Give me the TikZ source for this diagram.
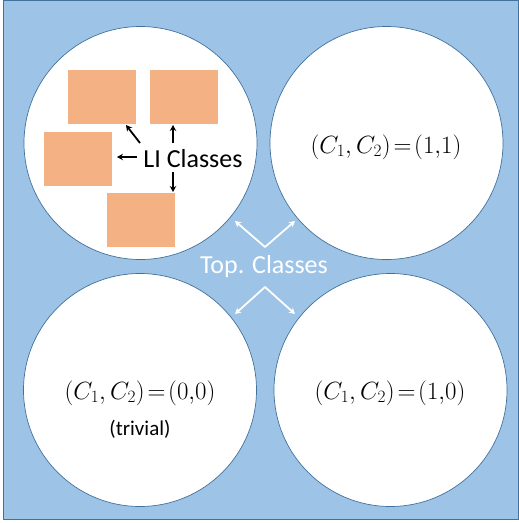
\documentclass[tikz,border=0pt]{standalone}
\usepackage{fontspec}
\setmainfont{Carlito}
\usepackage{xcolor}
\usetikzlibrary{arrows.meta}
\definecolor{bgblue}{HTML}{9DC3E6}
\definecolor{rimblue}{HTML}{41719C}
\definecolor{boxorange}{HTML}{F4B183}
\tikzset{
  disc/.style={circle,fill=white,draw=rimblue,line width=0.7pt,inner sep=0pt,minimum size=233pt},
  libox/.style={rectangle,fill=boxorange,draw=white,line width=0.4pt,inner sep=0pt,minimum width=69pt,minimum height=55pt},
  bigtext/.style={font=\fontsize{26}{30}\selectfont,inner sep=0pt},
  blackarrow/.style={->,line width=1.8pt,>={Stealth[length=6pt,width=6.5pt]}},
  whitearrow/.style={<->,white,line width=1.8pt,>={Stealth[length=6pt,width=6.5pt]}}
}

\begin{document}
\begin{tikzpicture}[x=1pt,y=-1pt,line join=round]
  \useasboundingbox (0,0) rectangle (519,523);
  \fill[white] (0,0) rectangle (519,523);
  \draw[fill=bgblue,draw=rimblue,line width=0.8pt] (3,0.5) rectangle (518,519);
  % four discs
  \node[disc] (DTL) at (140.5,143) {};
  \node[disc] (DTR) at (386.5,143) {};
  \node[disc] (DBL) at (140.0,390) {};
  \node[disc] (DBR) at (390.5,390) {};
  % LI classes in the first disc
  \node[libox] (B1) at (101.5,96.5) {};
  \node[libox] (B2) at (183.5,96.5) {};
  \node[libox] (B3) at (77.5,158.5) {};
  \node[libox] (B4) at (140.5,220.0) {};
  \node[bigtext] (LI) at (193,159) {LI Classes};
  \coordinate (A1s) at (140,143);
  \coordinate (A1e) at (126,125);
  \coordinate (A2s) at (173,143);
  \coordinate (A2e) at (173,125);
  \coordinate (A3s) at (137,157);
  \coordinate (A3e) at (117,157);
  \coordinate (A4s) at (173,172);
  \coordinate (A4e) at (173,192);
  \draw[blackarrow] (A1s) -- (A1e);
  \draw[blackarrow] (A2s) -- (A2e);
  \draw[blackarrow] (A3s) -- (A3e);
  \draw[blackarrow] (A4s) -- (A4e);
  % class labels
  \node[bigtext] (L11) at (386,147) {$(C_1,C_2)\!=\!(1{,}1)$};
  \node[bigtext] (L00) at (140,393) {$(C_1,C_2)\!=\!(0{,}0)$};
  \node[font=\fontsize{21}{25}\selectfont,inner sep=0pt] (LT) at (140,429) {(trivial)};
  \node[bigtext] (L10) at (390,393) {$(C_1,C_2)\!=\!(1{,}0)$};
  % topological classes
  \node[bigtext,white] (TC) at (264,267) {Top. Classes};
  \coordinate (Vu) at (265,247);
  \coordinate (Tul) at (235,221);
  \coordinate (Tur) at (295,221);
  \coordinate (Vd) at (265,287);
  \coordinate (Tdl) at (235,314);
  \coordinate (Tdr) at (295,314);
  \draw[whitearrow] (Tul) -- (Vu) -- (Tur);
  \draw[whitearrow] (Tdl) -- (Vd) -- (Tdr);
\end{tikzpicture}
\end{document}
